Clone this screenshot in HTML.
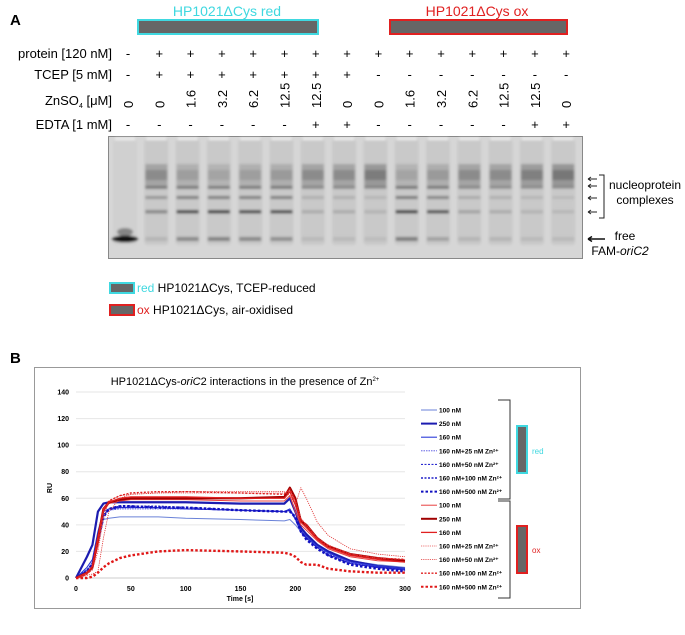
<!DOCTYPE html>
<html><head><meta charset="utf-8">
<style>
body{margin:0;background:#fff;width:685px;height:635px;overflow:hidden;font-family:"Liberation Sans",sans-serif;}
svg{display:block}
</style></head>
<body>
<svg id="fig" width="685" height="635" viewBox="0 0 685 635" xmlns="http://www.w3.org/2000/svg" font-family="Liberation Sans, sans-serif">
<text x="10" y="25" font-size="15" font-weight="bold">A</text>
<text x="227" y="16" font-size="14" fill="#3fd8e0" text-anchor="middle">HP1021ΔCys red</text>
<rect x="138" y="20" width="180" height="14" fill="#666" stroke="#3fd8e0" stroke-width="2"/>
<text x="477" y="16" font-size="14" fill="#e02020" text-anchor="middle">HP1021ΔCys ox</text>
<rect x="390" y="20" width="177" height="14" fill="#666" stroke="#e02020" stroke-width="2"/>
<g font-size="13" text-anchor="end">
<text x="112" y="58">protein [120 nM]</text>
<text x="112" y="79">TCEP [5 mM]</text>
<text x="112" y="105">ZnSO<tspan font-size="7" dy="3">4</tspan><tspan dy="-3"> [μM]</tspan></text>
<text x="112" y="129">EDTA [1 mM]</text>
</g>
<g id="rows"></g>
<g id="gel"></g>
<g font-size="12">
<text x="645" y="189" text-anchor="middle">nucleoprotein</text>
<text x="645" y="204" text-anchor="middle">complexes</text>
<text x="625" y="240" text-anchor="middle">free</text>
<text x="620" y="255" text-anchor="middle">FAM-<tspan font-style="italic">oriC2</tspan></text>
</g>
<path d="M599 175 H604 V218 H599" fill="none" stroke="#222" stroke-width="1"/>
<rect x="110" y="283" width="24" height="10" fill="#666" stroke="#3fd8e0" stroke-width="2"/>
<text x="137" y="292" font-size="12"><tspan fill="#3fd8e0">red</tspan> HP1021ΔCys, TCEP-reduced</text>
<rect x="110" y="305" width="24" height="10" fill="#666" stroke="#e02020" stroke-width="2"/>
<text x="137" y="314" font-size="12"><tspan fill="#e02020">ox</tspan>  HP1021ΔCys, air-oxidised</text>

<text x="10" y="363" font-size="15" font-weight="bold">B</text>
<rect x="34.5" y="367.5" width="546" height="241" fill="#fff" stroke="#999" stroke-width="1"/>
<text x="245" y="385" font-size="11" text-anchor="middle">HP1021ΔCys-<tspan font-style="italic">oriC</tspan>2 interactions in the presence of Zn<tspan font-size="6" dy="-4">2+</tspan></text>
<text transform="translate(52,488) rotate(-90)" font-size="7" font-weight="bold" text-anchor="middle">RU</text>
<text x="240" y="601" font-size="7" font-weight="bold" text-anchor="middle">Time [s]</text>
<g id="chart"></g>
<g id="legend"></g>
<path d="M498 400 H510 V499 H498" fill="none" stroke="#333"/>
<path d="M498 501 H510 V598 H498" fill="none" stroke="#333"/>
<rect x="517" y="426" width="10" height="47" fill="#666" stroke="#3fd8e0" stroke-width="2"/>
<text x="532" y="454" font-size="8" fill="#3fd8e0">red</text>
<rect x="517" y="526" width="10" height="47" fill="#666" stroke="#e02020" stroke-width="2"/>
<text x="532" y="553" font-size="8" fill="#e02020">ox</text>
</svg>
<script>
const NS="http://www.w3.org/2000/svg";
function mk(p,tag,at){const e=document.createElementNS(NS,tag);for(const k in at)e.setAttribute(k,at[k]);p.appendChild(e);return e;}
// ---- gel data ----
const proteinRow=["-","+","+","+","+","+","+","+","+","+","+","+","+","+","+"];
const tcepRow=["-","+","+","+","+","+","+","+","-","-","-","-","-","-","-"];
const znRow=["0","0","1.6","3.2","6.2","12.5","12.5","0","0","1.6","3.2","6.2","12.5","12.5","0"];
const edtaRow=["-","-","-","-","-","-","+","+","-","-","-","-","-","+","+"];
const smearBand=[0,.6,.4,.35,.4,.45,.6,.6,.8,.35,.45,.6,.6,.75,.85];
const band1=[0,.5,.55,.55,.55,.55,.35,.35,.3,.6,.55,.35,.3,.25,.2];
const band2=[0,.4,.6,.6,.6,.6,.2,.2,.15,.65,.55,.25,.2,.15,.12];
const band3=[0,.45,.9,.95,.85,.85,.2,.2,.15,.95,.8,.25,.2,.15,.12];
const freeBand=[1,.15,.5,.55,.5,.45,.12,.12,.1,.6,.3,.15,.15,.12,.12];
const rows=document.getElementById('rows');
const laneX=i=>128+i*31.3;
const gelX=i=>125+i*31.3;
[[proteinRow,58,'protein'],[tcepRow,79,'tcep'],[edtaRow,129,'edta']].forEach(([arr,y,n])=>{
 arr.forEach((v,i)=>{const t=mk(rows,'text',{x:laneX(i),y:y,'font-size':13,'text-anchor':'middle'});t.textContent=v;
 
 });});
znRow.forEach((v,i)=>{const t=mk(rows,'text',{transform:`translate(${laneX(i)+5},${108}) rotate(-90)`,'font-size':13});t.textContent=v;
 
 });
const gel=document.getElementById('gel');
const defs=mk(gel,'defs',{});const f=mk(defs,'filter',{id:'bl',filterUnits:'userSpaceOnUse',x:100,y:130,width:490,height:135});mk(f,'feGaussianBlur',{stdDeviation:'1.3'});
const gr=mk(gel,'rect',{x:108.5,y:136.5,width:474,height:122,fill:'#d6d6d6',stroke:'#888'});


const bg=mk(gel,'g',{filter:'url(#bl)'});
proteinRow.forEach((p,i)=>{const x=gelX(i)-12;
 mk(bg,'rect',{x:x,y:139,width:24,height:106,rx:3,fill:i? '#c9c9c9':'#d0d0d0'});
 mk(bg,'rect',{x:x+2,y:138,width:20,height:2,fill:'#f4f4f4'});
 const sh=(y,h,a)=>{if(a>0)mk(bg,'rect',{x:x+1,y:y,width:22,height:h,fill:`rgba(30,30,30,${a})`});};
 if(i>0){sh(164,24,smearBand[i]*.35);sh(170,10,smearBand[i]*.3);}
 sh(186,3,band1[i]*.75);sh(196,3,band2[i]*.75);sh(210,3.5,band3[i]*.85);
 if(i==0){mk(bg,'ellipse',{cx:gelX(0),cy:239,rx:13,ry:3.5,fill:'#111'});mk(bg,'ellipse',{cx:gelX(0),cy:232,rx:8,ry:4,fill:'rgba(40,40,40,.45)'});}
 else sh(237,4,freeBand[i]*.75);
});
[179,186,198,212].forEach((y,k)=>{const a=mk(gel,'path',{d:`M588 ${y} H597 M588 ${y} l3 -2 M588 ${y} l3 2`,stroke:'#222',fill:'none'});
 
 });
const fa=mk(gel,'path',{d:'M588 239 H605 M588 239 l4 -2.5 M588 239 l4 2.5',stroke:'#111','stroke-width':1.5,fill:'none'});



// ---- chart data ----
const times=[0,5,10,15,20,25,30,40,50,75,100,150,190,195,200,205,210,220,230,250,275,300];
const yTicks=[0,20,40,60,80,100,120,140];
const xTicks=[0,50,100,150,200,250,300];
const red100=[0,3,6,10,25,44,45,46,46,46,45,44,43,44,40,35,32,25,20,13,10,8];
const red250=[0,8,16,25,50,56,57,57,57,57,57,56,56,60,50,38,33,25,20,13,9,7];
const red160=[0,4,8,14,35,50,52,53,53,53,52,51,50,52,45,36,31,24,19,12,9,7];
const red160z25=[0,3,6,12,32,48,51,52,52,52,52,51,50,51,44,36,30,23,18,12,8,6];
const red160z50=[0,3,6,11,30,47,51,53,53,53,52,51,50,51,44,35,30,23,18,11,8,6];
const red160z100=[0,3,6,11,30,47,52,54,54,54,53,51,50,51,45,35,30,23,17,11,8,6];
const red160z500=[0,2,5,10,28,46,52,54,54,53,53,51,50,50,46,35,29,22,17,10,7,5];
const ox100=[0,2,4,8,25,50,56,58,59,59,59,58,58,62,50,40,36,28,22,16,13,12];
const ox250=[0,2,4,8,30,52,57,59,60,60,60,60,61,68,60,43,40,30,24,18,15,13];
const ox160=[0,2,4,9,30,52,57,60,61,61,61,60,60,65,55,42,38,29,23,17,14,12];
const ox160z25=[0,1,3,6,20,45,58,62,63,64,64,64,64,66,58,45,40,30,25,18,15,14];
const ox160z50=[0,1,2,3,5,30,50,60,63,64,65,65,65,62,55,68,60,42,32,22,18,16];
const ox160z100=[0,1,3,7,25,50,58,62,64,65,65,64,63,67,58,44,40,30,24,18,15,14];
const ox160z500=[0,0,0,1,4,8,11,15,17,20,21,20,19,18,16,12,10,10,7,5,4,4];
const seriesLabels=["100 nM","250 nM","160 nM","160 nM+25 nM Zn²⁺","160 nM+50 nM Zn²⁺","160 nM+100 nM Zn²⁺","160 nM+500 nM Zn²⁺","100 nM","250 nM","160 nM","160 nM+25 nM Zn²⁺","160 nM+50 nM Zn²⁺","160 nM+100 nM Zn²⁺","160 nM+500 nM Zn²⁺"];
const seriesData=[red100,red250,red160,red160z25,red160z50,red160z100,red160z500,ox100,ox250,ox160,ox160z25,ox160z50,ox160z100,ox160z500];
const styles=[["#6a82d8",1,""],["#1c1cb0",2.2,""],["#2a3ad8",1.1,""],["#4a4ae0",.9,"1.5,1"],["#2a2ad0",1.1,"2,1.5"],["#2020c8",1.5,"2,1.5"],["#1010c0",2.4,"2.5,2"],
 ["#e84040",1,""],["#a00000",2.2,""],["#e02020",1.3,""],["#e85050",.8,"1.2,1"],["#e03030",.8,"1.2,1"],["#e02020",1.4,"2,1.5"],["#e01818",2.4,"2.5,2"]];
const X=t=>76+t/300*329, Y=v=>578-v/140*186;
const ch=document.getElementById('chart');
yTicks.forEach(v=>{const l=mk(ch,'line',{x1:76,x2:405,y1:Y(v),y2:Y(v),stroke:v?'#e6e6e6':'#ccc'});
 
 
 const t=mk(ch,'text',{x:69,y:Y(v)+2.5,'font-size':7,'font-weight':'bold','text-anchor':'end'});t.textContent=v;
 
 });
xTicks.forEach(v=>{const t=mk(ch,'text',{x:X(v),y:591,'font-size':7,'font-weight':'bold','text-anchor':'middle'});t.textContent=v;
 
 });
seriesData.forEach((d,s)=>{const [c,w,da]=styles[s];
 const p=mk(ch,'polyline',{points:d.map((v,i)=>X(times[i])+','+Y(v)).join(' '),fill:'none',stroke:c,'stroke-width':w,'stroke-dasharray':da,'stroke-linejoin':'round'});
 
 });
const lg=document.getElementById('legend');
seriesLabels.forEach((lab,s)=>{const [c,w,da]=styles[s];const y=410+s*13.6;
 const g=mk(lg,'g',{});
 
 
 mk(g,'line',{x1:421,x2:437,y1:y,y2:y,stroke:c,'stroke-width':Math.min(w,2),'stroke-dasharray':da});
 const t=mk(g,'text',{x:439,y:y+2.5,'font-size':6.5,'font-weight':'bold'});t.textContent=lab;});
</script>
</body></html>
